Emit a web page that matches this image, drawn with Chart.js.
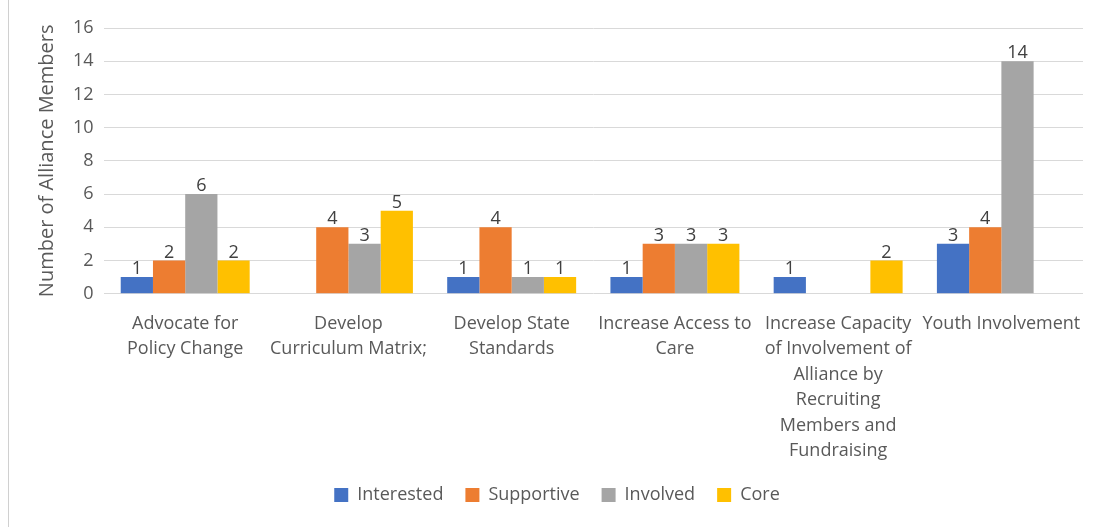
<!DOCTYPE html>
<html>
<head>
<meta charset="utf-8">
<script src="https://cdn.jsdelivr.net/npm/chart.js@4.4.1/dist/chart.umd.min.js"></script>
<style>
  html, body { margin: 0; padding: 0; background: #fff; }
  #wrap { position: relative; width: 1097px; height: 527px; }
  #frame { position: absolute; left: 8px; top: 0; width: 1px; height: 527px; background: #d0d0d0; }
</style>
</head>
<body>
<div id="wrap">
  <div id="frame"></div>
  <canvas id="myChart" width="1097" height="527"></canvas>
</div>
<script>
  'use strict'

  // categories (multi-line labels like the original)
  const categories = [
    ['Advocate for', 'Policy Change'],
    ['Develop', 'Curriculum Matrix;'],
    ['Develop State', 'Standards'],
    ['Increase Access to', 'Care'],
    ['Increase Capacity', 'of Involvement of', 'Alliance by', 'Recruiting', 'Members and', 'Fundraising'],
    ['Youth Involvement']
  ]

  // series values (null = no bar)
  const interested = [1, null, 1, 1, 1, 3]
  const supportive = [2, 4, 4, 3, null, 4]
  const involved = [6, 3, 1, 3, null, 14]
  const core = [2, 5, 1, 3, 2, null]

  const yTicks = [0, 2, 4, 6, 8, 10, 12, 14, 16]

  const textColor = '#595959'
  const fontFamily = '"Open Sans", sans-serif'

  // draws the number on top of each bar
  const barLabels = {
    id: 'barLabels',
    afterDatasetsDraw(chart) {
      const ctx = chart.ctx
      ctx.save()
      ctx.font = '18px ' + fontFamily
      ctx.fillStyle = '#404040'
      ctx.textAlign = 'center'
      ctx.textBaseline = 'bottom'
      chart.data.datasets.forEach((ds, i) => {
        const meta = chart.getDatasetMeta(i)
        meta.data.forEach((bar, j) => {
          if (ds.data[j] === null) return
          ctx.fillText(ds.data[j], bar.x, bar.y + 1)
        })
      })
      ctx.restore()
    }
  }

  const ctx = document.getElementById('myChart')

  const myChart = new Chart(ctx, {
    type: 'bar',
    data: {
      labels: categories,
      datasets: [
        { label: 'Interested', data: interested, backgroundColor: '#4472C4' },
        { label: 'Supportive', data: supportive, backgroundColor: '#ED7D31' },
        { label: 'Involved', data: involved, backgroundColor: '#A5A5A5' },
        { label: 'Core', data: core, backgroundColor: '#FFC000' }
      ]
    },
    plugins: [barLabels],
    options: {
      responsive: false,
      animation: false,
      datasets: {
        bar: { barPercentage: 1, categoryPercentage: 0.79 }
      },
      layout: {
        padding: { left: 31, right: 14, top: 28, bottom: 13 }
      },
      plugins: {
        legend: {
          position: 'bottom',
          labels: {
            boxWidth: 14,
            boxHeight: 14,
            padding: 22,
            color: textColor,
            font: { family: fontFamily, size: 18 }
          }
        },
        tooltip: { enabled: false }
      },
      scales: {
        x: {
          grid: { display: false },
          border: { display: false },
          afterFit: (axis) => { axis.height -= 9 },
          ticks: {
            color: textColor,
            maxRotation: 0,
            autoSkip: false,
            padding: 9,
            font: { family: fontFamily, size: 18, lineHeight: 1.42 }
          }
        },
        y: {
          min: 0,
          max: 16,
          afterBuildTicks: (axis) => { axis.ticks = yTicks.map(v => ({ value: v })) },
          grid: { color: '#d9d9d9', drawTicks: false },
          border: { display: false },
          ticks: {
            color: textColor,
            padding: 10,
            font: { family: fontFamily, size: 18 }
          },
          title: {
            display: true,
            text: 'Number of Alliance Members',
            color: textColor,
            padding: { top: 4, bottom: 4 },
            font: { family: fontFamily, size: 20 }
          }
        }
      }
    }
  })
</script>
</body>
</html>
